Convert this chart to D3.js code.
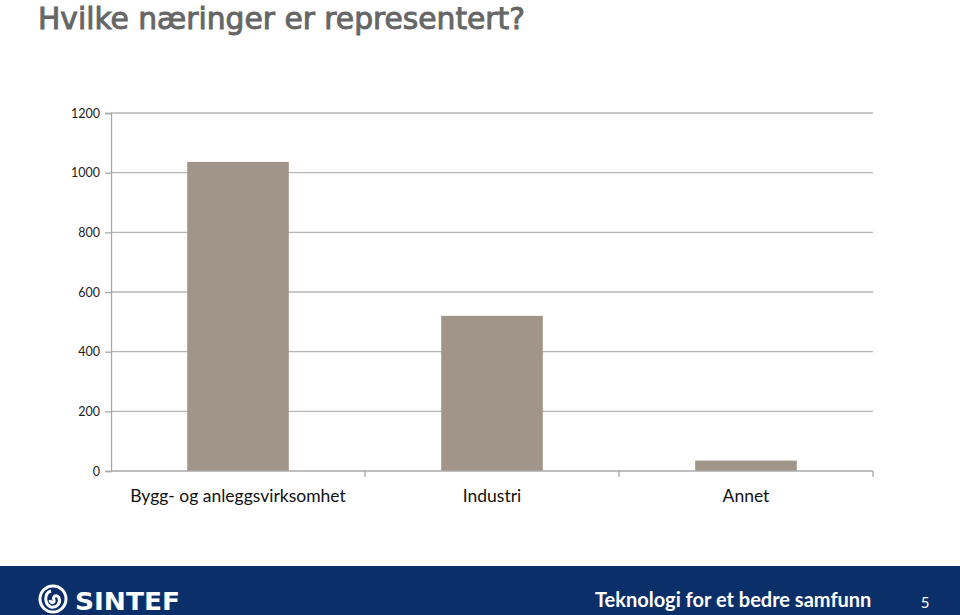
<!DOCTYPE html>
<html><head><meta charset="utf-8">
<script src="https://cdn.jsdelivr.net/npm/d3@7"></script>
<style>body{margin:0;background:#fff;}svg{display:block;}</style>
</head><body>
<svg id="chart" width="960" height="615"></svg>
<script>
const categories = ["Bygg- og anleggsvirksomhet", "Industri", "Annet"];
const values = [1036, 520, 35];
const yTicks = [0, 200, 400, 600, 800, 1000, 1200];
const title = "Hvilke næringer er representert?";
const footerText = "Teknologi for et bedre samfunn";
const pageNumber = "5";

const svg = d3.select("#chart");
const W = 960, H = 615;
const plot = {left: 111, right: 873, top: 113, bottom: 471};

// Title
svg.append("text").attr("x", 38).attr("y", 29)
  .attr("font-family", "'DejaVu Sans Condensed', 'DejaVu Sans', sans-serif")
  .attr("font-size", 31).attr("fill", "#666")
  .attr("stroke", "#666").attr("stroke-width", 0.9)
  .attr("textLength", 487).attr("lengthAdjust", "spacingAndGlyphs")
  .text(title);

const x = d3.scaleBand().domain(categories).range([plot.left, plot.right])
  .paddingInner(0.6).paddingOuter(0.3);
const y = d3.scaleLinear().domain([0, 1200]).range([plot.bottom, plot.top]);

// gridlines
svg.append("g").selectAll("line").data(yTicks.filter(d => d > 0)).join("line")
  .attr("x1", plot.left).attr("x2", plot.right)
  .attr("y1", d => y(d)).attr("y2", d => y(d))
  .attr("stroke", "#b5b5b5").attr("stroke-width", 1.3);

// y axis
const yAxis = d3.axisLeft(y).tickValues(yTicks).tickSize(6).tickPadding(5).tickFormat(d3.format("d"));
const gy = svg.append("g").attr("transform", `translate(${plot.left},0)`).call(yAxis);
gy.select(".domain").attr("stroke", "#a8a8a8").attr("stroke-width", 1.3);
gy.selectAll(".tick line").attr("stroke", "#a8a8a8").attr("stroke-width", 1.3);
gy.selectAll(".tick text").attr("font-family", "Lato, 'Open Sans', sans-serif")
  .attr("font-size", 12.5).attr("fill", "#222");

// bars
svg.append("g").selectAll("rect").data(values).join("rect")
  .attr("x", (d, i) => x(categories[i]))
  .attr("width", x.bandwidth())
  .attr("y", d => y(d))
  .attr("height", d => y(0) - y(d))
  .attr("fill", "#a19589");

// x axis
const step = x.step();
const boundaries = d3.range(categories.length + 1).map(i => plot.left + i * step);
svg.append("line").attr("x1", plot.left).attr("x2", plot.right)
  .attr("y1", plot.bottom).attr("y2", plot.bottom)
  .attr("stroke", "#a8a8a8").attr("stroke-width", 1.3);
svg.append("g").selectAll("line").data(boundaries.slice(1)).join("line")
  .attr("x1", d => d).attr("x2", d => d)
  .attr("y1", plot.bottom).attr("y2", plot.bottom + 6)
  .attr("stroke", "#a8a8a8").attr("stroke-width", 1.3);
svg.append("g").selectAll("text").data(categories).join("text")
  .attr("x", d => x(d) + x.bandwidth() / 2)
  .attr("y", 502)
  .attr("text-anchor", "middle")
  .attr("font-family", "Lato, 'Open Sans', sans-serif")
  .attr("font-size", 17.5).attr("fill", "#111")
  .text(d => d);

// footer
svg.append("rect").attr("x", 0).attr("y", 566).attr("width", W).attr("height", H - 566)
  .attr("fill", "#0b3069");
const logo = svg.append("g").attr("transform", "translate(53,599)");
logo.append("circle").attr("r", 13).attr("fill", "none").attr("stroke", "#fff").attr("stroke-width", 3);
logo.append("path").attr("d", "M-2,-8 C-9,-6 -9,5 -2,8 C4,9 8,4 6,-1 C4,-5 -1,-3 1,1 C2,4 -2,5 -3,1")
  .attr("fill", "none").attr("stroke", "#fff").attr("stroke-width", 3);
svg.append("text").attr("x", 75).attr("y", 610)
  .attr("font-family", "'DejaVu Sans', sans-serif").attr("font-weight", "bold")
  .attr("font-size", 25).attr("fill", "#fff")
  .attr("textLength", 105).attr("lengthAdjust", "spacingAndGlyphs")
  .text("SINTEF");
svg.append("text").attr("x", 595).attr("y", 607)
  .attr("font-family", "Lato, 'Open Sans', sans-serif").attr("font-weight", "bold")
  .attr("font-size", 20).attr("fill", "#fff")
  .text(footerText);
svg.append("text").attr("x", 925).attr("y", 608)
  .attr("text-anchor", "middle")
  .attr("font-family", "Lato, 'Open Sans', sans-serif")
  .attr("font-size", 15).attr("fill", "#fff")
  .text(pageNumber);
</script>
</body></html>
